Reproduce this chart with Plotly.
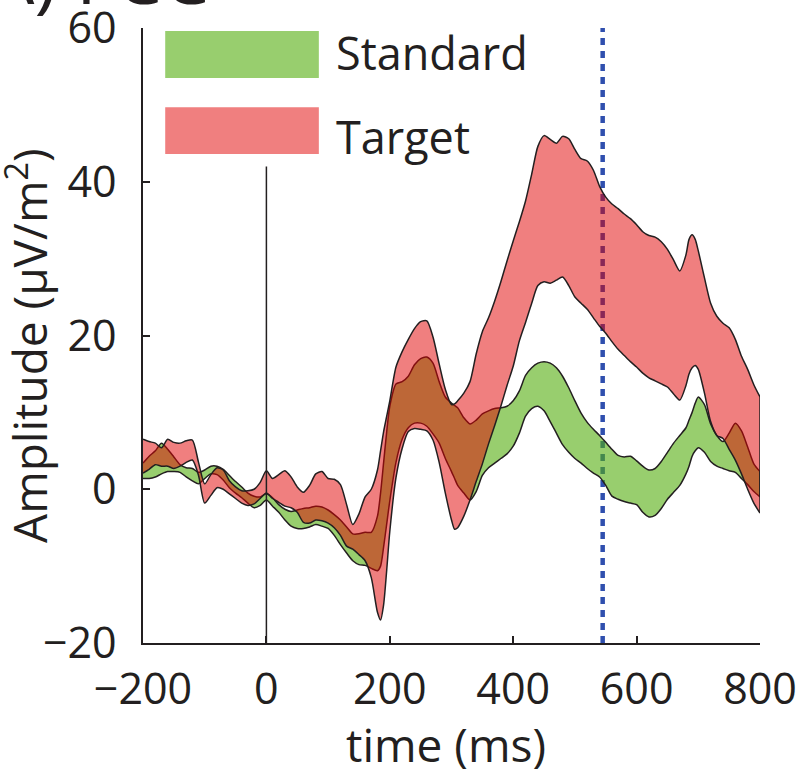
import plotly.graph_objects as go

# ---------------- data ----------------
time_ms = [-200, -190, -180, -170, -160, -150, -140, -130, -120, -110,
           -100, -90, -80, -70, -60, -50, -40, -30, -20, -10,
           0, 10, 20, 30, 40, 50, 60, 70, 80, 90,
           100, 110, 120, 130, 140, 150, 160, 170, 180, 185,
           190, 195, 200, 210, 220, 230, 240, 250, 260, 270,
           280, 290, 300, 305, 310, 320, 330, 340, 350, 360,
           370, 380, 390, 400, 410, 420, 430, 440, 450, 460,
           470, 480, 490, 500, 510, 520, 530, 540, 550, 560,
           570, 580, 590, 600, 610, 620, 630, 640, 650, 660,
           670, 680, 685, 690, 695, 700, 710, 720, 730, 740,
           750, 760, 770, 780, 790, 800]

standard_upper = [3.4, 4.3, 5.0, 6.0, 5.2, 4.2, 3.2, 2.8, 2.7, 2.2,
                  2.5, 3.0, 3.0, 2.6, 1.8, 1.0, 0.3, -0.5, -0.9, -1.0,
                  -0.6, -1.1, -2.0, -2.6, -2.9, -2.7, -2.5, -2.4, -2.2, -2.3,
                  -2.7, -3.3, -4.0, -4.9, -5.8, -5.8, -5.6, -5.6, -3.5, -0.5,
                  3.5, 7.5, 10.8, 13.7, 14.0, 14.7, 16.2, 17.0, 17.2, 16.4,
                  14.0, 12.0, 11.2, 10.9, 10.6, 9.3, 8.5, 9.0, 9.8, 10.2,
                  10.5, 10.6, 10.8, 11.5, 12.8, 14.8, 15.8, 16.4, 16.6, 16.4,
                  15.8, 14.7, 13.2, 11.5, 9.9, 8.7, 7.8, 7.0, 6.1, 5.2,
                  4.4, 4.2, 4.3, 3.7, 3.0, 2.5, 2.7, 3.6, 4.8, 6.0,
                  7.0, 8.0, 9.0, 10.0, 11.2, 12.0, 11.0, 8.5, 7.0, 6.2,
                  7.3, 8.6, 7.6, 5.5, 3.3, 2.3]

standard_lower = [1.4, 1.4, 1.6, 2.0, 2.3, 2.3, 2.2, 1.6, 1.1, 0.7,
                  1.4, 2.0, 1.9, 1.2, 0.2, -0.5, -1.1, -1.8, -2.4, -2.1,
                  -1.4, -2.2, -3.0, -4.0, -4.8, -5.1, -5.1, -4.9, -4.6, -4.8,
                  -5.1, -6.0, -7.2, -8.3, -9.3, -9.8, -9.9, -10.3, -10.6, -10.0,
                  -7.5, -4.5, -1.5, 3.5, 6.5, 8.0, 8.6, 8.6, 8.2, 7.2,
                  6.0, 4.0, 2.3, 1.4, 0.5, -0.5, -1.4, -0.3, 1.8, 2.8,
                  3.4, 4.0, 4.6, 5.6, 7.3, 9.5, 10.5, 10.8, 10.2, 8.8,
                  7.3, 5.8, 4.8, 4.0, 3.4, 2.7, 2.1, 1.6, 0.5, -0.9,
                  -1.3, -1.6, -1.8, -2.0, -3.0, -3.6, -3.4, -2.5, -1.3, -0.4,
                  0.5, 2.0, 3.0, 4.3, 5.0, 5.4, 4.8, 3.6, 3.0, 2.7,
                  2.4, 2.2, 1.4, 0.6, -0.3, -1.0]

target_upper = [6.5, 6.2, 6.0, 5.4, 6.5, 6.1, 6.0, 6.3, 6.4, 3.5,
                0.7, 1.9, 2.8, 2.5, 1.1, 0.3, -0.2, -0.2, 0.0, 0.9,
                2.4, 1.4, 1.9, 2.4, 1.6, 0.3, -0.4, 0.5, 2.0, 2.3,
                1.4, 1.3, 0.6, -2.0, -4.6, -3.2, -1.0, 0.0, 2.5, 5.0,
                7.5, 9.5, 11.5, 15.9, 17.9, 19.5, 20.9, 21.8, 21.9, 19.8,
                16.3, 13.0, 11.0, 11.1, 11.5, 12.5, 14.0, 17.6, 20.5, 22.3,
                24.5, 27.0, 29.7, 32.3, 34.8, 37.5, 41.0, 44.6, 46.0, 45.5,
                45.0, 45.9, 45.6, 44.2, 43.0, 42.7, 41.5, 39.4, 38.0, 37.1,
                36.5, 35.8, 35.2, 34.4, 33.5, 33.0, 32.8, 32.2, 31.2, 29.8,
                28.4, 30.5, 32.5, 33.1, 32.5, 31.0, 27.5, 24.2, 22.5, 21.6,
                21.0, 19.5, 17.3, 15.6, 13.6, 12.0]

target_lower = [2.1, 2.6, 3.2, 3.0, 3.0, 2.7, 3.0, 3.5, 3.8, 1.8,
                -1.8, -0.8, 0.2, 0.0, -0.6, -1.2, -1.8, -2.1, -1.9, -1.2,
                -0.5, -1.2, -1.7, -2.2, -2.4, -3.0, -4.3, -4.4, -4.0, -4.1,
                -4.4, -5.0, -6.0, -7.4, -7.8, -8.5, -9.3, -11.5, -16.0, -17.0,
                -15.0, -10.5, -5.5, 1.5, 5.3, 7.5, 7.9, 7.8, 7.6, 6.4,
                3.5, -0.5, -4.0, -5.2, -5.0, -3.5, -1.4, 1.0, 3.3, 5.9,
                8.3, 10.8, 13.5, 16.0, 19.3, 21.7, 24.2, 26.5, 27.0, 26.8,
                27.2, 27.6, 26.5, 25.0, 24.2, 23.4, 22.3, 21.2, 20.3, 19.2,
                18.2, 17.4, 16.6, 15.9, 15.1, 14.5, 14.1, 13.7, 13.3, 12.4,
                11.6, 13.5, 15.0, 15.8, 16.1, 15.6, 12.5, 8.8, 7.0, 6.6,
                5.2, 3.8, 2.0, 0.0, -1.8, -3.1]

series_names = ["Standard", "Target"]
x_tick_values = [-200, 0, 200, 400, 600, 800]
y_tick_values = [-20, 0, 20, 40, 60]
stimulus_onset_ms = 0
stimulus_line_top = 42
marker_time_ms = 545
panel_title = "A) FCC"

# ---------------- style ----------------
FONT = "Open Sans"
INK = "#231f20"
GREEN_FILL = "rgba(83,173,13,0.6)"
RED_FILL = "rgba(225,0,0,0.5)"
EDGE = dict(color=INK, width=1.5, shape="spline", smoothing=0.7)

fig = go.Figure()


def add_band(lower, upper, fillcolor, name):
    fig.add_trace(go.Scatter(x=time_ms, y=lower, mode="lines", line=EDGE,
                             hoverinfo="skip", showlegend=False, name=name + " lower"))
    fig.add_trace(go.Scatter(x=time_ms, y=upper, mode="lines", line=EDGE,
                             fill="tonexty", fillcolor=fillcolor,
                             showlegend=False, name=name))


add_band(standard_lower, standard_upper, GREEN_FILL, series_names[0])
add_band(target_lower, target_upper, RED_FILL, series_names[1])

# right-end closing edges of the bands
for lo, up in ((standard_lower, standard_upper), (target_lower, target_upper)):
    fig.add_trace(go.Scatter(x=[time_ms[-1], time_ms[-1]], y=[lo[-1], up[-1]],
                             mode="lines", line=dict(color=INK, width=1.5),
                             hoverinfo="skip", showlegend=False))

shapes = [
    # dotted marker line (behind the bands)
    dict(type="line", xref="x", yref="y", x0=marker_time_ms, x1=marker_time_ms,
         y0=y_tick_values[0], y1=y_tick_values[-1], layer="below",
         line=dict(color="#2f4fae", width=4.5, dash="7px,6px")),
    # stimulus onset line
    dict(type="line", xref="x", yref="y", x0=stimulus_onset_ms, x1=stimulus_onset_ms,
         y0=y_tick_values[0], y1=stimulus_line_top, layer="above",
         line=dict(color=INK, width=1.5)),
    # legend swatches
    dict(type="rect", xref="x", yref="y", x0=-164, x1=85, y0=53.5, y1=59.6,
         fillcolor=GREEN_FILL, line=dict(width=0), layer="above"),
    dict(type="rect", xref="x", yref="y", x0=-164, x1=85, y0=43.6, y1=49.7,
         fillcolor=RED_FILL, line=dict(width=0), layer="above"),
]

annotations = [
    dict(text=series_names[0], xref="x", yref="y", x=109, y=56.8, xanchor="left",
         yanchor="middle", showarrow=False, font=dict(family=FONT, size=45, color=INK)),
    dict(text=series_names[1], xref="x", yref="y", x=109, y=45.9, xanchor="left",
         yanchor="middle", showarrow=False, font=dict(family=FONT, size=45, color=INK)),
    dict(text="time (ms)", xref="paper", yref="paper", x=0.491, y=-0.164,
         xanchor="center", yanchor="middle", showarrow=False,
         font=dict(family=FONT, size=46, color=INK)),
    dict(text="Amplitude (µV/m<sup>2</sup>)", xref="paper", yref="paper",
         x=-0.188, y=0.483, textangle=-90, xanchor="center", yanchor="middle",
         showarrow=False, font=dict(family=FONT, size=46, color=INK)),
    dict(text=panel_title, xref="paper", yref="paper", x=-0.2567, y=1.0855,
         xanchor="left", yanchor="middle", showarrow=False,
         font=dict(family=FONT, size=75, color=INK)),
]

axis_common = dict(showgrid=False, zeroline=False, showline=True, linewidth=1.5,
                   linecolor=INK, ticks="inside", ticklen=7, tickwidth=1.5,
                   tickcolor=INK, ticklabeloverflow="allow",
                   tickfont=dict(family=FONT, size=43, color=INK))

fig.update_layout(
    width=799, height=771,
    margin=dict(l=143, r=39, t=28, b=128, autoexpand=False),
    paper_bgcolor="white", plot_bgcolor="white",
    showlegend=False,
    xaxis=dict(range=[x_tick_values[0], x_tick_values[-1]], tickvals=x_tick_values,
               ticklabelstandoff=8, **axis_common),
    yaxis=dict(range=[y_tick_values[0], y_tick_values[-1]], tickvals=y_tick_values,
               ticklabelstandoff=16, **axis_common),
    shapes=shapes,
    annotations=annotations,
)

fig.write_html("out.html")
